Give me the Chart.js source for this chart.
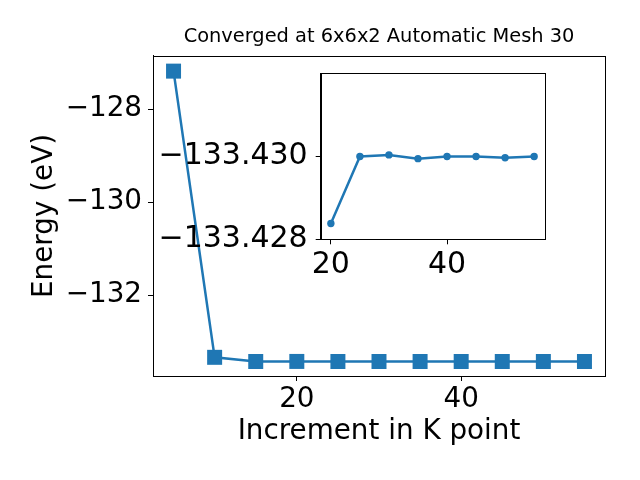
<!DOCTYPE html>
<html>
<head>
<meta charset="utf-8">
<script src="https://cdn.jsdelivr.net/npm/chart.js@4/dist/chart.umd.min.js"></script>
<style>
  body { margin: 0; background: #fff; }
  #wrap { position: relative; width: 640px; height: 480px; }
  #mainChart { position: absolute; left: 0; top: 0; }
  #insetChart { position: absolute; left: 150px; top: 46.7px; }
</style>
</head>
<body>
<div id="wrap">
  <canvas id="mainChart" width="640" height="480"></canvas>
  <canvas id="insetChart" width="420" height="243"></canvas>
</div>
<script>
// k-point increments and total energies (eV)
const kPoints = [5, 10, 15, 20, 25, 30, 35, 40, 45, 50, 55];
const energies = [-127.18, -133.34, -133.4300, -133.42838, -133.42999, -133.43003,
                  -133.42994, -133.42999, -133.42999, -133.42996, -133.42999];

// inset zooms in from 20 onwards
const insetStart = 3;

const mainXTicks = [20, 40];
const mainYTicks = [-132, -130, -128];
const insetXTicks = [20, 40];
const insetYTicks = [-133.430, -133.428];

const blue = '#1f77b4';
const font = 'DejaVu Sans';
const big = { family: font, size: 27.8 };
const insetFont = { family: font, size: 30 };

function toPts(xs, ys) {
  return xs.map((x, i) => ({ x: x, y: ys[i] }));
}

function fixTicks(list) {
  return function (scale) {
    scale.ticks = list.map(v => ({ value: v }));
  };
}

function minus(s) {
  return s.replace('-', '\u2212');
}

// draws the full black frame like matplotlib
const frame = {
  id: 'frame',
  afterDraw(chart) {
    const a = chart.chartArea;
    const ctx = chart.ctx;
    ctx.save();
    ctx.strokeStyle = '#000';
    ctx.lineWidth = 1;
    ctx.strokeRect(Math.round(a.left) + 0.5, Math.round(a.top) + 0.5,
      Math.round(a.right - a.left), Math.round(a.bottom - a.top));
    ctx.restore();
  }
};

const whiteBg = {
  id: 'whiteBg',
  beforeDraw(chart) {
    const a = chart.chartArea;
    chart.ctx.save();
    chart.ctx.fillStyle = '#fff';
    chart.ctx.fillRect(a.left, a.top, a.right - a.left, a.bottom - a.top);
    chart.ctx.restore();
  }
};

const tickGrid = { drawOnChartArea: false, drawTicks: true, tickLength: 5, color: '#000' };

new Chart(document.getElementById('mainChart'), {
  type: 'line',
  data: {
    datasets: [{
      data: toPts(kPoints, energies),
      borderColor: blue,
      backgroundColor: blue,
      borderWidth: 2.5,
      pointStyle: 'rect',
      pointRadius: 10.6,
      pointBorderWidth: 0,
      pointHoverRadius: 10.6
    }]
  },
  options: {
    responsive: false,
    animation: false,
    layout: { padding: { left: 0, right: 35, top: 0, bottom: 0 } },
    plugins: {
      legend: { display: false },
      tooltip: { enabled: false },
      title: {
        display: true,
        text: 'Converged at 6x6x2 Automatic Mesh 30',
        color: '#000',
        fullSize: false,
        font: { family: font, size: 19.4, weight: 'normal' },
        padding: { top: 25, bottom: 7.7 }
      }
    },
    scales: {
      x: {
        type: 'linear',
        min: 2.5,
        max: 57.5,
        afterBuildTicks: fixTicks(mainXTicks),
        afterFit(s) { s.height = 104; },
        grid: tickGrid,
        border: { display: true, color: '#000' },
        ticks: { color: '#000', font: big, padding: 2, maxRotation: 0 },
        title: { display: true, text: 'Increment in K point', color: '#000', font: big, padding: 32 }
      },
      y: {
        min: -133.742,
        max: -126.854,
        afterBuildTicks: fixTicks(mainYTicks),
        afterFit(s) { s.width = 153; },
        grid: tickGrid,
        border: { display: true, color: '#000' },
        ticks: { color: '#000', font: big, padding: 6, callback: v => minus(v.toFixed(0)) },
        title: { display: true, text: 'Energy (eV)', color: '#000', font: big, padding: 28 }
      }
    }
  },
  plugins: [frame]
});

new Chart(document.getElementById('insetChart'), {
  type: 'line',
  data: {
    datasets: [{
      data: toPts(kPoints.slice(insetStart), energies.slice(insetStart)),
      borderColor: blue,
      backgroundColor: blue,
      borderWidth: 2.5,
      pointStyle: 'circle',
      pointRadius: 3.7,
      pointBorderWidth: 0,
      pointHoverRadius: 3.7
    }]
  },
  options: {
    responsive: false,
    animation: false,
    layout: { padding: { left: 0, right: 25.7, top: 0, bottom: 0 } },
    plugins: { legend: { display: false }, tooltip: { enabled: false } },
    scales: {
      x: {
        type: 'linear',
        min: 18.25,
        max: 56.75,
        afterBuildTicks: fixTicks(insetXTicks),
        afterFit(s) { s.height = 50.7; },
        grid: tickGrid,
        border: { display: true, color: '#000' },
        ticks: { color: '#000', font: insetFont, padding: 3, maxRotation: 0 }
      },
      y: {
        min: -133.432,
        max: -133.428,
        reverse: true,
        afterBuildTicks: fixTicks(insetYTicks),
        afterFit(s) { s.width = 170.7; },
        grid: tickGrid,
        border: { display: true, color: '#000' },
        ticks: { color: '#000', font: insetFont, padding: 8, callback: v => minus(v.toFixed(3)) }
      }
    }
  },
  plugins: [whiteBg, frame]
});
</script>
</body>
</html>
